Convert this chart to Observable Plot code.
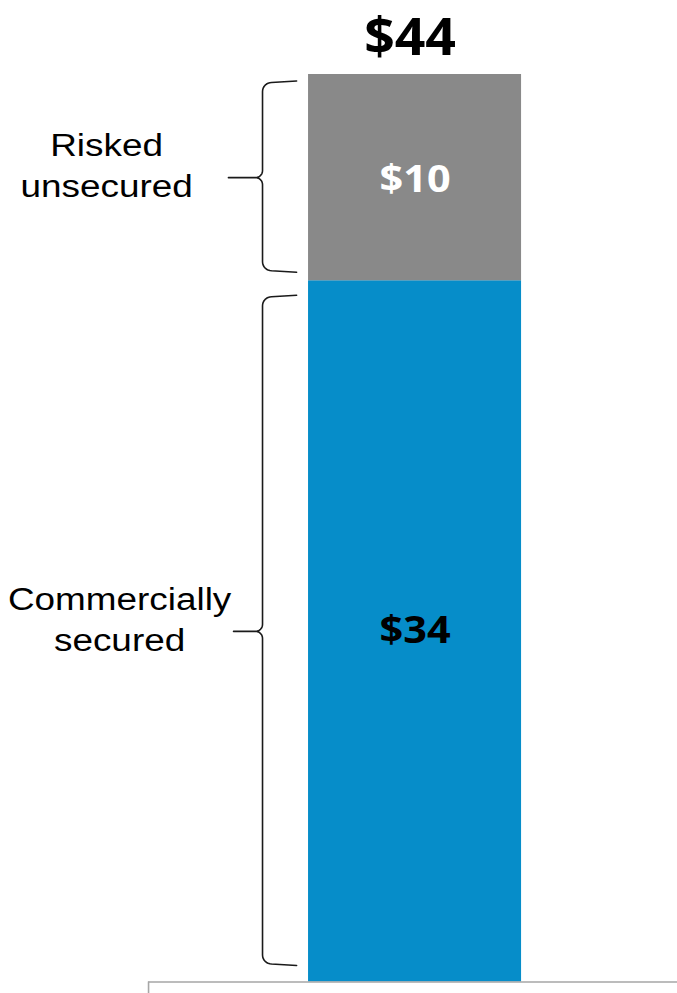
<!DOCTYPE html>
<html>
<head>
<meta charset="utf-8">
<script src="https://cdn.jsdelivr.net/npm/d3@7"></script>
<script src="https://cdn.jsdelivr.net/npm/@observablehq/plot@0.6"></script>
<style>
  html, body { margin: 0; padding: 0; background: #fff; }
  #chart svg { display: block; background: #fff; }
</style>
</head>
<body>
<div id="chart"></div>
<script>
// ---- data ----
const categories = ["Commercially\nsecured", "Risked\nunsecured"];
const values = [34, 10];
const valueLabels = ["$34", "$10"];
const totalLabel = "$44";

// ---- styles ----
const segmentColors = ["#068dc9", "#898989"];
const valueTextColors = ["#000000", "#ffffff"];

// build stacked table from the arrays
const ends = d3.cumsum(values);
const table = categories.map((c, i) => ({
  i,
  category: c,
  value: values[i],
  label: valueLabels[i],
  y1: ends[i] - values[i],
  y2: ends[i],
  mid: ends[i] - values[i] / 2
}));
const total = d3.sum(values);

// layout (x: bar spans 0..1)
const W = 677, H = 993;
const xDomain = [-1.446, 1.732];
const pxX = W / (xDomain[1] - xDomain[0]);
const marginTop = 74, marginBottom = 11.5;
const pxY = (H - marginTop - marginBottom) / total;

// brace annotation geometry (per segment)
const braceSpec = [
  {i: 0, inTop: 16, inBot: 18, tip: -0.352},
  {i: 1, inTop: 8, inBot: 10, tip: -0.376}
];
const xEnd = -0.056, xSpine = -0.216;
function arc(cx, cy, a0, a1, rx, ry, n = 8) {
  const pts = [];
  for (let k = 0; k <= n; k++) {
    const a = a0 + (a1 - a0) * k / n;
    pts.push([cx + rx * Math.cos(a), cy + ry * Math.sin(a)]);
  }
  return pts;
}
const braceData = [];
for (const b of braceSpec) {
  const row = table[b.i];
  const yTop = row.y2 - b.inTop / pxY;
  const yBot = row.y1 + b.inBot / pxY;
  const yMid = row.mid;
  const rx = 9 / pxX, ry = 9 / pxY;
  const tx = 7 / pxX, ty = 7 / pxY;
  let pts = [];
  pts.push([xEnd, yTop + 1.5 / pxY]);
  pts = pts.concat(arc(xSpine + rx, yTop - ry, Math.PI / 2, Math.PI, rx, ry));
  pts = pts.concat(arc(xSpine - tx, yMid + ty, 0, -Math.PI / 2, tx, ty));
  pts.push([b.tip, yMid]);
  pts = pts.concat(arc(xSpine - tx, yMid - ty, Math.PI / 2, 0, tx, ty));
  pts = pts.concat(arc(xSpine + rx, yBot + ry, Math.PI, 3 * Math.PI / 2, rx, ry));
  pts.push([xEnd, yBot - 1.5 / pxY]);
  pts.forEach(([x, y]) => braceData.push({brace: b.i, x, y}));
}

const labelX = [-0.887, -0.948];
const frameX = -0.751;

const svg = Plot.plot({
  width: W,
  height: H,
  marginTop,
  marginBottom,
  marginLeft: 0,
  marginRight: 0,
  x: {type: "linear", domain: xDomain, axis: null},
  y: {type: "linear", domain: [0, total], axis: null},
  color: {type: "identity"},
  style: {background: "#fff", overflow: "visible"},
  marks: [
    Plot.rectY(table, {
      x1: 0, x2: 1, y1: "y1", y2: "y2",
      fill: d => segmentColors[d.i]
    }),
    Plot.ruleY([0], {x1: frameX, x2: xDomain[1], stroke: "#a6a6a6", strokeWidth: 1.6}),
    Plot.ruleX([frameX], {y1: 0, y2: -1, stroke: "#a6a6a6", strokeWidth: 1.6}),
    Plot.line(braceData, {
      x: "x", y: "y", z: "brace",
      stroke: "#1a1a1a", strokeWidth: 1.6, curve: "linear",
      strokeLinejoin: "round"
    }),
    Plot.text(table, {
      filter: d => d.i === 0,
      x: 0.5, y: "mid", text: "label",
      fill: d => valueTextColors[d.i],
      dy: 0,
      fontSize: 37, fontWeight: "bold", fontFamily: "Open Sans"
    }),
    Plot.text(table, {
      filter: d => d.i === 1,
      x: 0.5, y: "mid", text: "label",
      fill: d => valueTextColors[d.i],
      dy: 3,
      fontSize: 37, fontWeight: "bold", fontFamily: "Open Sans"
    }),
    Plot.text([total], {
      x: 0.5, y: d => d, text: () => totalLabel,
      dx: -5, dy: -20, lineAnchor: "bottom",
      fontSize: 52, fontWeight: "bold", fontFamily: "Open Sans", fill: "#000"
    }),
    Plot.text(table, {
      x: d => labelX[d.i], y: "mid", text: "category",
      dy: -14, lineHeight: 1.33,
      fontSize: 31, fontFamily: "Liberation Sans, Arial, sans-serif", fill: "#000"
    })
  ]
});

document.getElementById("chart").appendChild(svg);

// horizontal stretch of text glyphs around their own anchor point
const flatCats = categories.map(c => c.replace(/\n/g, ""));
d3.select(svg).selectAll("text").each(function () {
  const s = this.textContent;
  let k = null;
  if (valueLabels.includes(s)) k = 1.12;
  else if (s === totalLabel) k = 1.03;
  else if (flatCats.includes(s)) k = 1.19;
  if (k == null) return;
  const t = this.getAttribute("transform");
  if (t) this.setAttribute("transform", t + ` scale(${k},1)`);
  else {
    const x = +this.getAttribute("x") || 0;
    this.setAttribute("transform", `translate(${x},0) scale(${k},1) translate(${-x},0)`);
  }
});
</script>
</body>
</html>
